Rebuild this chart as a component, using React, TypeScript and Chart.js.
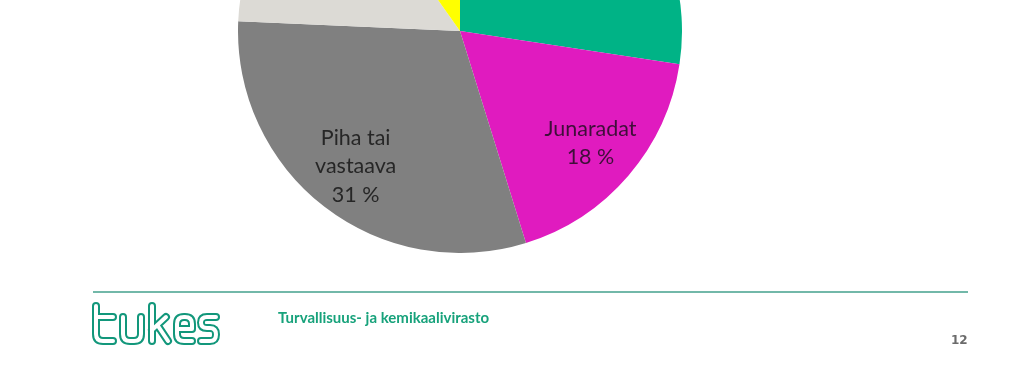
import React, { useEffect, useRef } from "react";
import { Chart, registerables } from "chart.js";

Chart.register(...registerables);

const categories = ["Tiet ja kadut", "Junaradat", "Piha tai vastaava", "Muu", "Muut alueet"];
const shares = [27.4, 17.8, 30.5, 14.5, 9.8];
const sliceColors = ["#00b386", "#e01bbf", "#808080", "#dcdad5", "#ffff00"];
const labelLines = [
  ["Tiet ja kadut", "27 %"],
  ["Junaradat", "18 %"],
  ["Piha tai", "vastaava", "31 %"],
  ["Muu", "14 %"],
  ["Muut", "10 %"],
];
const labelRadius = [0.78, 0.775, 0.77, 0.55, 0.78];
const labelColors = ["#1f1f1f", "#3f0f39", "#262626", "#262626", "#262626"];

const sliceLabelPlugin = {
  id: "sliceLabels",
  afterDatasetsDraw(chart: any) {
    const ctx = chart.ctx;
    const meta = chart.getDatasetMeta(0);
    ctx.save();
    ctx.font = "21.5px Lato, 'Open Sans', sans-serif";
    ctx.textAlign = "center";
    ctx.textBaseline = "middle";
    meta.data.forEach((arc: any, i: number) => {
      const p = arc.getProps(["x", "y", "startAngle", "endAngle", "outerRadius"], true);
      const mid = (p.startAngle + p.endAngle) / 2;
      const r = p.outerRadius * labelRadius[i];
      const cx = p.x + Math.cos(mid) * r;
      const cy = p.y + Math.sin(mid) * r;
      const lines = labelLines[i];
      const lh = 28.5;
      ctx.fillStyle = labelColors[i];
      lines.forEach((t, k) => {
        ctx.fillText(t, cx, cy + (k - (lines.length - 1) / 2) * lh);
      });
    });
    ctx.restore();
  },
};

function PieChart() {
  const ref = useRef<HTMLCanvasElement | null>(null);
  useEffect(() => {
    if (!ref.current) return;
    const chart = new Chart(ref.current, {
      type: "pie",
      data: {
        labels: categories,
        datasets: [
          {
            data: shares,
            backgroundColor: sliceColors,
            borderWidth: 0,
          },
        ],
      },
      options: {
        animation: false,
        responsive: false,
        devicePixelRatio: 1,
        layout: { padding: 0 },
        plugins: { legend: { display: false }, tooltip: { enabled: false } },
      },
      plugins: [sliceLabelPlugin],
    });
    return () => chart.destroy();
  }, []);
  return (
    <canvas
      ref={ref}
      width={444}
      height={444}
      style={{ position: "absolute", left: 238, top: -191, width: 444, height: 444 }}
    />
  );
}

function Logo() {
  const d =
    "M96 306 V334 Q96 341 103 341 H113 M96 317 H113 " +
    "M123 317 V334 Q123 341 130 341 H134 Q141 341 141 334 V317 " +
    "M152 306 V341 M152 330 L166 317 M158 326 L168 341 " +
    "M177 329 H192 V324 Q192 317 185 317 H184 Q177 317 177 324 V334 Q177 341 184 341 H192 " +
    "M216 317 H207 Q201 317 201 322.5 Q201 328 207 328 H210 Q216 328 216 334.5 Q216 341 210 341 H201";
  return (
    <svg width={1024} height={384} style={{ position: "absolute", left: 0, top: 0 }}>
      <path d={d} fill="none" stroke="#12977b" strokeWidth={8} strokeLinecap="round" strokeLinejoin="round" />
      <path d={d} fill="none" stroke="#ffffff" strokeWidth={4} strokeLinecap="round" strokeLinejoin="round" />
    </svg>
  );
}

export default function App() {
  return (
    <div
      style={{
        position: "fixed",
        left: 0,
        top: 0,
        width: 1024,
        height: 384,
        overflow: "hidden",
        background: "#ffffff",
      }}
    >
      <PieChart />
      <div
        style={{
          position: "absolute",
          left: 93,
          top: 291,
          width: 875,
          height: 2,
          background: "#72b8a9",
        }}
      />
      <Logo />
      <div
        style={{
          position: "absolute",
          left: 278,
          top: 308,
          fontFamily: "Lato, 'Open Sans', sans-serif",
          fontWeight: 700,
          fontSize: 15,
          color: "#17a27b",
          whiteSpace: "nowrap",
        }}
      >
        Turvallisuus- ja kemikaalivirasto
      </div>
      <div
        style={{
          position: "absolute",
          left: 951,
          top: 333,
          fontFamily: "'DejaVu Sans', sans-serif",
          fontWeight: 700,
          fontSize: 12,
          color: "#6b6b6b",
        }}
      >
        12
      </div>
    </div>
  );
}
